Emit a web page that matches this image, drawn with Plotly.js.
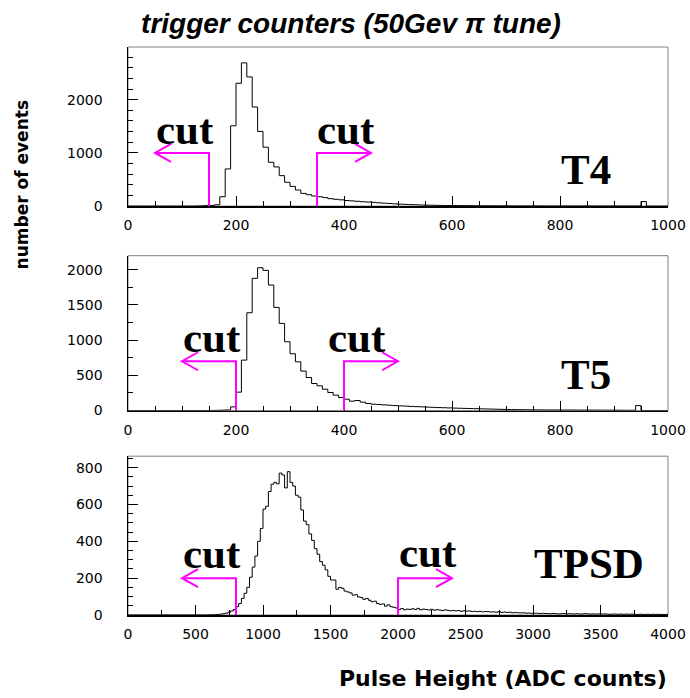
<!DOCTYPE html>
<html>
<head>
<meta charset="utf-8">
<script src="https://cdn.plot.ly/plotly-3.0.1.min.js"></script>
<style>html,body{margin:0;padding:0;background:#fff;}#plot{width:690px;height:698px;}</style>
</head>
<body>
<div id="plot"></div>
<script>
// ---- data (bin counts) ----
var t4Start = 0, t4Width = 10;
var t4Counts = [
  0,0,0,0,0,0,0,0,0,0, 0,0,0,3,8,12,25,176,698,1509,
  2308,2692,2428,1862,1403,1107,824,736,572,447, 371,302,239,214,189,176,160,140,128,118,
  105,98,90,82,76,70,62,55,48,42, 36,32,28,24,20,18,16,14,12,11,
  10,9,8,8,7,6,5,5,4,4, 4,3,3,3,3,3,3,2,2,2,
  2,2,2,2,2,2,2,2,2,2, 2,2,2,2,2,85,0,0,0,0
];
var t5Start = 0, t5Width = 10;
var t5Counts = [
  0,0,0,0,0,0,0,0,0,0, 0,0,0,0,0,0,3,5,8,52,
  261,716,1389,1878,2029,1991,1783,1465,1238,977, 806,692,560,469,384,351,303,256,218,185,
  161,133,142,119,100,90,85,80,75,70, 66,62,58,55,52,48,45,42,40,37,
  34,32,30,28,26,24,22,20,18,16, 14,13,12,11,10,9,9,8,8,8,
  7,7,7,6,6,6,6,5,5,5, 5,4,4,4,70,0,0,0,0,0
];
var tpsdStart = 0, tpsdWidth = 20;
var tpsdCounts = [
  0,0,0,0,0,0,0,0,0,0, 0,0,0,0,0,0,0,0,0,0, 0,0,0,0,0,0,0,0,0,0,
  1,1,2,3,5,7,10,15,22,30,
  45,62,90,118,150,205,260,320,400,470,
  575,590,670,710,720,712,770,760,690,778,
  720,700,650,640,570,510,490,440,405,360,
  330,290,270,245,210,190,190,140,150,145,
  130,125,120,108,110,98,95,85,90,80,
  72,75,62,58,60,48,55,45,42,38,
  30,35,28,32,30, 34,30,36,28,32, 30,27,31,26,29, 27,24,28,25,23, 25,22,24,20,23,
  21,22,19,20,18, 20,17,19,18,16, 17,15,18,14,16, 14,15,12,13,12, 11,12,10,11,9,
  9,10,8,9,8, 8,7,8,7,6, 7,8,6,7,6, 6,7,5,6,7, 6,5,6,5,6,
  5,6,5,4,5, 5,4,5,4,5, 4,5,4,3,4, 4,3,4,3,4, 3,4,3,3,3
];
var panelNames = ["T4", "T5", "TPSD"];
// cut positions: [low cut, high cut], arrow level, arrow length
var cutsT4 = [150, 350], cutLevelT4 = 1000, arrowLenT4 = 100;
var cutsT5 = [200, 400], cutLevelT5 = 700, arrowLenT5 = 100;
var cutsTPSD = [800, 2000], cutLevelTPSD = 200, arrowLenTPSD = 400;

// ---- build step traces ----
function stepTrace(start, width, counts, xa, ya) {
  var x = [], y = [];
  for (var i = 0; i < counts.length; i++) { x.push(start + i * width); y.push(counts[i]); }
  x.push(start + counts.length * width); y.push(counts[counts.length - 1]);
  return {x: x, y: y, type: 'scatter', mode: 'lines', line: {shape: 'hv', color: '#000', width: 1},
          xaxis: xa, yaxis: ya, hoverinfo: 'skip', showlegend: false};
}
var traces = [
  stepTrace(t4Start, t4Width, t4Counts, 'x', 'y'),
  stepTrace(t5Start, t5Width, t5Counts, 'x2', 'y2'),
  stepTrace(tpsdStart, tpsdWidth, tpsdCounts, 'x3', 'y3')
];

var tickFont = {family: 'DejaVu Sans', size: 14, color: '#000'};
function xax(range, dt, mdt, anchor) {
  return {range: range, dtick: dt, tick0: 0, ticks: 'inside', ticklen: 10, tickwidth: 1, tickcolor: '#000',
    minor: {ticks: 'inside', ticklen: 5, dtick: mdt, tick0: 0, tickcolor: '#000', tickwidth: 1, showgrid: false},
    showline: true, linecolor: '#000', linewidth: 1.5, showgrid: false, zeroline: false,
    tickfont: tickFont, ticklabelstandoff: 6, anchor: anchor, fixedrange: true};
}
function yax(range, dt, mdt, dom, anchor) {
  return {range: range, dtick: dt, tick0: 0, ticks: 'inside', ticklen: 10, tickwidth: 1, tickcolor: '#000',
    minor: {ticks: 'inside', ticklen: 5, dtick: mdt, tick0: 0, tickcolor: '#000', tickwidth: 1, showgrid: false},
    showline: true, linecolor: '#000', linewidth: 1.5, showgrid: false, zeroline: false,
    tickfont: tickFont, ticklabelstandoff: 21, domain: dom, anchor: anchor, fixedrange: true};
}

var shapes = [];
var annotations = [];
var serif = {family: 'Liberation Serif', size: 43, color: '#000', weight: 'bold'};
var mag = '#ff00ff';
function addCuts(cuts, level, len, xa, ya) {
  var lo = cuts[0], hi = cuts[1];
  shapes.push({type: 'path', xref: xa, yref: ya, path: 'M ' + lo + ',0 L ' + lo + ',' + level + ' L ' + (lo - len) + ',' + level,
    line: {color: mag, width: 2}});
  shapes.push({type: 'path', xref: xa, yref: ya, xsizemode: 'pixel', ysizemode: 'pixel', xanchor: lo - len, yanchor: level,
    path: 'M 16,9 L 0,0 L 16,-9', line: {color: mag, width: 2}});
  shapes.push({type: 'path', xref: xa, yref: ya, path: 'M ' + hi + ',0 L ' + hi + ',' + level + ' L ' + (hi + len) + ',' + level,
    line: {color: mag, width: 2}});
  shapes.push({type: 'path', xref: xa, yref: ya, xsizemode: 'pixel', ysizemode: 'pixel', xanchor: hi + len, yanchor: level,
    path: 'M -16,9 L 0,0 L -16,-9', line: {color: mag, width: 2}});
}
addCuts(cutsT4, cutLevelT4, arrowLenT4, 'x', 'y');
addCuts(cutsT5, cutLevelT5, arrowLenT5, 'x2', 'y2');
addCuts(cutsTPSD, cutLevelTPSD, arrowLenTPSD, 'x3', 'y3');

// gray frames
[['x', 'y'], ['x2', 'y2'], ['x3', 'y3']].forEach(function (p) {
  shapes.push({type: 'rect', xref: p[0] + ' domain', yref: p[1] + ' domain', x0: 0, x1: 1, y0: 0, y1: 1,
    line: {color: '#808080', width: 1}, layer: 'below'});
});

function txt(t, x, y, xa, ya) {
  annotations.push({text: t, x: x, y: y, xref: xa, yref: ya, xanchor: 'left', yanchor: 'bottom', yshift: -10,
    showarrow: false, font: serif});
}
txt('cut', 48, 1150, 'x', 'y');
txt('cut', 347, 1150, 'x', 'y');
txt(panelNames[0], 798, 396, 'x', 'y');
txt('cut', 98, 811, 'x2', 'y2');
txt('cut', 367, 815, 'x2', 'y2');
txt(panelNames[1], 798, 289, 'x2', 'y2');
txt('cut', 395, 252, 'x3', 'y3');
txt('cut', 1990, 254, 'x3', 'y3');
txt(panelNames[2], 2990, 198, 'x3', 'y3');

annotations.push({text: 'number of events', xref: 'paper', yref: 'paper', x: -0.1956, y: 0.757,
  xanchor: 'center', yanchor: 'middle', textangle: -90, showarrow: false,
  font: {family: 'DejaVu Sans', size: 17, color: '#000', weight: 'bold'}});
annotations.push({text: 'Pulse Height (ADC counts)', xref: 'paper', yref: 'paper', x: 0.6946, y: -0.1115,
  xanchor: 'center', yanchor: 'middle', showarrow: false,
  font: {family: 'DejaVu Sans', size: 22, color: '#000', weight: 'bold'}});

var layout = {
  width: 690, height: 698,
  margin: {l: 127.7, r: 22, t: 47, b: 83.3, pad: 0},
  paper_bgcolor: '#fff', plot_bgcolor: '#fff',
  title: {text: 'trigger counters (50Gev \u03c0 tune)', x: 0.5087, xanchor: 'center', xref: 'container',
    y: 0.967, yref: 'container', yanchor: 'middle',
    font: {family: 'Liberation Sans', size: 28, color: '#000', weight: 'bold', style: 'italic'}},
  xaxis: xax([0, 1000], 200, 50, 'y'),
  yaxis: yax([0, 2990], 1000, 200, [0.7199, 1], 'x'),
  xaxis2: xax([0, 1000], 200, 50, 'y2'),
  yaxis2: yax([0, 2200], 500, 250, [0.3600, 0.6326], 'x2'),
  xaxis3: xax([0, 4000], 500, 250, 'y3'),
  yaxis3: yax([0, 862], 200, 50, [0, 0.2796], 'x3'),
  shapes: shapes, annotations: annotations, showlegend: false
};
Plotly.newPlot('plot', traces, layout, {staticPlot: true, displayModeBar: false});
</script>
</body>
</html>
